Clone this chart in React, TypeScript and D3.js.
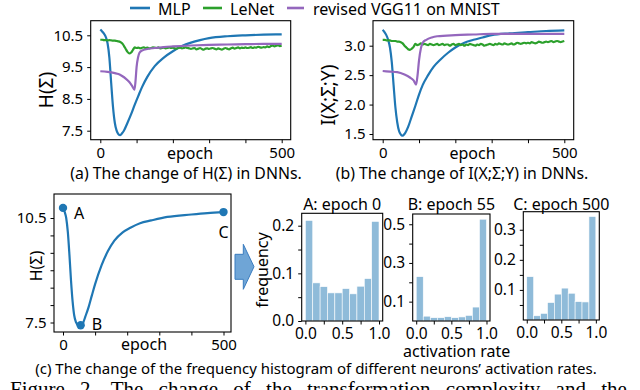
import React, { useEffect, useRef } from "react";
import * as d3 from "d3";

const FONT = "'Noto Sans', 'DejaVu Sans', sans-serif";

const blue = "#1f77b4";
const green = "#2ca02c";
const purple = "#9467bd";

const legendNames = ["MLP", "LeNet", "revised VGG11 on MNIST"];

// (a) H(Sigma) per epoch
const mlpH = [
  [0, 10.68], [5, 10.62], [10, 10.55], [15, 10.45], [20, 10.25], [25, 9.8], [30, 9.0],
  [35, 8.25], [40, 7.75], [45, 7.5], [50, 7.39], [55, 7.36], [60, 7.42], [65, 7.5],
  [75, 7.75], [85, 8.02], [95, 8.32], [105, 8.6], [115, 8.87], [130, 9.2], [150, 9.53],
  [175, 9.8], [200, 10.0], [225, 10.16], [250, 10.27], [275, 10.35], [300, 10.41],
  [350, 10.47], [400, 10.5], [450, 10.52], [500, 10.53],
];
const vggH = [
  [0, 9.37], [20, 9.35], [40, 9.31], [50, 9.28], [60, 9.22], [70, 9.14], [80, 9.03],
  [88, 8.9], [94, 8.79], [97, 9.05], [100, 9.5], [104, 9.8], [108, 9.95], [115, 10.02],
  [130, 10.07], [150, 10.1], [175, 10.13], [200, 10.15], [250, 10.18], [300, 10.2],
  [350, 10.21], [400, 10.22], [450, 10.23], [500, 10.23],
];
// LeNet, one value every 5 epochs
const lenetH = [
  10.36, 10.36, 10.35, 10.35, 10.34, 10.35, 10.34, 10.33, 10.33, 10.32,
  10.31, 10.29, 10.25, 10.17, 10.07, 9.98, 9.93, 9.96, 10.04, 10.12,
  10.10, 10.11, 10.09, 10.11, 10.12, 10.10, 10.11, 10.09, 10.10, 10.12,
  10.11, 10.10, 10.12, 10.09, 10.10, 10.11, 10.09, 10.10, 10.12, 10.10,
  10.11, 10.09, 10.08, 10.10, 10.11, 10.09, 10.10, 10.12, 10.10, 10.09,
  10.07, 10.09, 10.10, 10.06, 10.08, 10.10, 10.07, 10.05, 10.08, 10.09,
  10.07, 10.09, 10.10, 10.08, 10.06, 10.09, 10.07, 10.05, 10.08, 10.10,
  10.08, 10.06, 10.09, 10.11, 10.08, 10.10, 10.12, 10.09, 10.11, 10.10,
  10.12, 10.10, 10.11, 10.13, 10.10, 10.12, 10.11, 10.14, 10.12, 10.11,
  10.13, 10.12, 10.15, 10.13, 10.16, 10.18, 10.15, 10.17, 10.19, 10.16,
  10.17,
];

// (b) I(X;Sigma;Y) per epoch
const mlpI = [
  [0, 3.27], [5, 3.23], [10, 3.18], [15, 3.1], [20, 2.97], [25, 2.72], [30, 2.33],
  [35, 1.95], [40, 1.7], [45, 1.55], [50, 1.49], [54, 1.47], [60, 1.5], [70, 1.62],
  [80, 1.8], [90, 1.98], [100, 2.17], [110, 2.33], [125, 2.5], [140, 2.64], [160, 2.77],
  [180, 2.88], [200, 2.97], [225, 3.05], [250, 3.1], [275, 3.14], [300, 3.18],
  [350, 3.21], [400, 3.23], [450, 3.25], [500, 3.26],
];
const vggI = [
  [0, 2.57], [20, 2.56], [40, 2.55], [60, 2.51], [75, 2.46], [85, 2.41], [92, 2.34],
  [96, 2.5], [100, 2.75], [105, 2.95], [110, 3.05], [120, 3.1], [135, 3.14], [150, 3.16],
  [200, 3.18], [250, 3.19], [300, 3.2], [400, 3.2], [500, 3.2],
];
const lenetI = [
  3.10, 3.10, 3.09, 3.09, 3.09, 3.08, 3.08, 3.08, 3.07, 3.07,
  3.06, 3.04, 3.00, 2.97, 2.94, 2.93, 2.95, 2.98, 3.03, 3.01,
  3.02, 3.04, 3.02, 3.03, 3.02, 3.01, 3.03, 3.02, 3.01, 3.02,
  3.03, 3.01, 3.02, 3.03, 3.01, 3.02, 3.02, 3.00, 3.02, 3.03,
  3.01, 3.02, 3.03, 3.01, 3.02, 3.00, 3.02, 3.01, 3.03, 3.02,
  3.01, 3.00, 3.02, 3.01, 3.03, 3.02, 3.00, 3.01, 3.02, 3.03,
  3.02, 3.01, 3.03, 3.02, 3.04, 3.03, 3.02, 3.04, 3.03, 3.02,
  3.03, 3.04, 3.02, 3.03, 3.05, 3.04, 3.03, 3.04, 3.05, 3.04,
  3.05, 3.04, 3.06, 3.05, 3.04, 3.05, 3.07, 3.06, 3.05, 3.06,
  3.07, 3.06, 3.07, 3.08, 3.06, 3.07, 3.08, 3.07, 3.06, 3.07,
  3.08,
];

// (c) MLP H(Sigma) with marked epochs
const mlpHc = [
  [0, 10.79], [5, 10.68], [10, 10.5], [15, 10.1], [20, 9.45], [25, 8.7], [30, 8.1],
  [35, 7.7], [40, 7.52], [47, 7.43], [55, 7.42], [62, 7.48], [70, 7.68], [80, 7.95],
  [90, 8.28], [100, 8.6], [120, 9.14], [140, 9.55], [160, 9.85], [185, 10.08],
  [210, 10.22], [240, 10.35], [275, 10.43], [325, 10.53], [400, 10.6], [450, 10.64],
  [500, 10.67],
];
const markEpochs = [0, 55, 500];
const markNames = ["A", "B", "C"];

// histograms of activation rate
const binEdges = [0, 0.1, 0.2, 0.3, 0.4, 0.5, 0.6, 0.7, 0.8, 0.9, 1.0];
const histA = [0.211, 0.08, 0.072, 0.059, 0.059, 0.068, 0.057, 0.073, 0.089, 0.209];
const histB = [0.229, 0.025, 0.017, 0.017, 0.022, 0.017, 0.021, 0.029, 0.072, 0.526];
const histC = [0.144, 0.014, 0.022, 0.058, 0.086, 0.106, 0.089, 0.061, 0.06, 0.344];
const histTitles = ["A: epoch 0", "B: epoch 55", "C: epoch 500"];

const epochTicks = [0, 100, 200, 300, 400, 500];
const epochLabels = [0, 500];
const rateTicks = [0, 0.25, 0.5, 0.75, 1];
const rateLabels = [0, 0.5, 1];

function everyFive(vals) {
  return vals.map((v, i) => [i * 5, v]);
}

function styleAxis(g, size) {
  g.select(".domain").remove();
  g.attr("font-family", FONT).attr("font-size", size).attr("color", "#000");
  g.selectAll(".tick line").attr("stroke-width", 1);
}

function drawFrame(svg, box, x, y, o) {
  svg.append("rect")
    .attr("x", box[0]).attr("y", box[1])
    .attr("width", box[2] - box[0]).attr("height", box[3] - box[1])
    .attr("fill", "none").attr("stroke", "#000").attr("stroke-width", 1.1);

  const xa = d3.axisBottom(x)
    .tickValues(o.xTicks)
    .tickFormat(d => (o.xLabels.includes(d) ? o.xFmt(d) : ""))
    .tickSizeInner(3.5).tickSizeOuter(0).tickPadding(o.xPad);
  svg.append("g").attr("transform", `translate(0,${box[3]})`).call(xa).call(g => styleAxis(g, o.tickSize));

  const ya = d3.axisLeft(y)
    .tickValues(o.yTicks)
    .tickFormat(d => (o.yLabels.includes(d) ? o.yFmt(d) : ""))
    .tickSizeInner(3.5).tickSizeOuter(0).tickPadding(o.yPad);
  svg.append("g").attr("transform", `translate(${box[0]},0)`).call(ya).call(g => styleAxis(g, o.tickSize));
}

function drawLines(svg, x, y, series) {
  const line = d3.line().x(d => x(d[0])).y(d => y(d[1])).curve(d3.curveMonotoneX);
  series.forEach(s => {
    svg.append("path")
      .attr("d", line(s.pts))
      .attr("fill", "none")
      .attr("stroke", s.color)
      .attr("stroke-width", 2.2)
      .attr("stroke-linejoin", "round");
  });
}

function addText(svg, txt, x, y, size, anchor = "middle", rotate = false) {
  const t = svg.append("text")
    .attr("font-family", FONT)
    .attr("font-size", size)
    .attr("text-anchor", anchor)
    .text(txt);
  if (rotate) t.attr("transform", `translate(${x},${y}) rotate(-90)`);
  else t.attr("x", x).attr("y", y);
  return t;
}

function drawHist(svg, box, values, yMax, yTicks, yLabels, title) {
  const x = d3.scaleLinear().domain([-0.05, 1.05]).range([box[0], box[2]]);
  const y = d3.scaleLinear().domain([0, yMax]).range([box[3], box[1]]);
  svg.append("g").selectAll("rect")
    .data(values)
    .join("rect")
    .attr("x", (d, i) => x(binEdges[i]))
    .attr("width", (d, i) => x(binEdges[i + 1]) - x(binEdges[i]))
    .attr("y", d => y(d))
    .attr("height", d => y(0) - y(d))
    .attr("fill", blue)
    .attr("fill-opacity", 0.5)
    .attr("stroke", "#fff")
    .attr("stroke-width", 0.6);
  drawFrame(svg, box, x, y, {
    xTicks: rateTicks, xLabels: rateLabels, xFmt: d3.format(".1f"), xPad: 3,
    yTicks, yLabels, yFmt: d3.format(".1f"), yPad: 4, tickSize: 15.5,
  });
  addText(svg, title, (box[0] + box[2]) / 2, 209.5, 16);
}

function Figure() {
  const ref = useRef(null);

  useEffect(() => {
    const svg = d3.select(ref.current);
    svg.selectAll("*").remove();

    // legend
    const legendPos = [[130, 150, 158], [203, 222, 230], [287, 304, 313]];
    [blue, green, purple].forEach((c, i) => {
      svg.append("line")
        .attr("x1", legendPos[i][0]).attr("x2", legendPos[i][1])
        .attr("y1", 8).attr("y2", 8)
        .attr("stroke", c).attr("stroke-width", 2.6);
      addText(svg, legendNames[i], legendPos[i][2], 14.5, 16, "start");
    });

    // (a)
    {
      const box = [90.7, 20.7, 290.7, 139.7];
      const x = d3.scaleLinear().domain([0, 500]).range([100.3, 281.7]);
      const y = d3.scaleLinear().domain([7.5, 10.5]).range([130.7, 35.3]);
      drawLines(svg, x, y, [
        { pts: mlpH, color: blue },
        { pts: everyFive(lenetH), color: green },
        { pts: vggH, color: purple },
      ]);
      drawFrame(svg, box, x, y, {
        xTicks: epochTicks, xLabels: epochLabels, xFmt: d3.format("d"), xPad: 4,
        yTicks: [7.5, 8.5, 9.5, 10.5], yLabels: [7.5, 8.5, 9.5, 10.5], yFmt: d3.format(".1f"), yPad: 4,
        tickSize: 15,
      });
      addText(svg, "epoch", 190, 159, 16);
      addText(svg, "H(Σ)", 53, 90, 19, "middle", true);
      addText(svg, "(a) The change of H(Σ) in DNNs.", 186, 178.5, 15.8);
    }

    // (b)
    {
      const box = [373, 20.7, 573.7, 139.7];
      const x = d3.scaleLinear().domain([0, 500]).range([382.7, 564.3]);
      const y = d3.scaleLinear().domain([1.5, 3.0]).range([134, 45.7]);
      drawLines(svg, x, y, [
        { pts: mlpI, color: blue },
        { pts: everyFive(lenetI), color: green },
        { pts: vggI, color: purple },
      ]);
      drawFrame(svg, box, x, y, {
        xTicks: epochTicks, xLabels: epochLabels, xFmt: d3.format("d"), xPad: 4,
        yTicks: [1.5, 2.0, 2.5, 3.0], yLabels: [1.5, 2.0, 2.5, 3.0], yFmt: d3.format(".1f"), yPad: 4,
        tickSize: 15,
      });
      addText(svg, "epoch", 472.5, 159, 16);
      addText(svg, "I(X;Σ;Y)", 335, 95, 19, "middle", true);
      addText(svg, "(b) The change of I(X;Σ;Y) in DNNs.", 462, 178.5, 15.8);
    }

    // (c)
    {
      const box = [54, 194, 231, 332];
      const x = d3.scaleLinear().domain([0, 500]).range([63, 223.5]);
      const y = d3.scaleLinear().domain([7.5, 10.5]).range([322.5, 218]);
      drawLines(svg, x, y, [{ pts: mlpHc, color: blue }]);
      const marks = markEpochs.map(e => mlpHc.find(d => d[0] === e));
      svg.append("g").selectAll("circle")
        .data(marks)
        .join("circle")
        .attr("cx", d => x(d[0]))
        .attr("cy", d => y(d[1]))
        .attr("r", 4.2)
        .attr("fill", blue);
      const labelOffsets = [[11, 11], [11, 5], [-5, 26]];
      marks.forEach((d, i) => {
        addText(svg, markNames[i], x(d[0]) + labelOffsets[i][0], y(d[1]) + labelOffsets[i][1], 16, "start");
      });
      drawFrame(svg, box, x, y, {
        xTicks: epochTicks, xLabels: epochLabels, xFmt: d3.format("d"), xPad: 4,
        yTicks: [7.5, 8, 8.5, 9, 9.5, 10, 10.5], yLabels: [7.5, 10.5], yFmt: d3.format(".1f"), yPad: 4,
        tickSize: 15,
      });
      addText(svg, "epoch", 144, 350, 16);
      addText(svg, "H(Σ)", 42, 266, 16, "middle", true);
    }

    // arrow
    svg.append("path")
      .attr("d", "M235,254.3 L243.3,254.3 L243.3,244.3 L254,266.7 L243.3,289.3 L243.3,279.3 L235,279.3 Z")
      .attr("fill", "#6fa5d6")
      .attr("stroke", "#3a7cbf")
      .attr("stroke-width", 1);

    // histograms
    drawHist(svg, [301.7, 213.3, 382.7, 321], histA, 0.226,
      [0, 0.05, 0.1, 0.15, 0.2], [0, 0.1, 0.2], histTitles[0]);
    drawHist(svg, [412.7, 214, 490, 321], histB, 0.553,
      [0.1, 0.2, 0.3, 0.4, 0.5], [0.1, 0.3, 0.5], histTitles[1]);
    drawHist(svg, [523.3, 211.7, 599.3, 320], histC, 0.36,
      [0.05, 0.1, 0.15, 0.2, 0.25, 0.3], [0.1, 0.2, 0.3], histTitles[2]);
    addText(svg, "frequency", 268, 270, 16, "middle", true);
    addText(svg, "activation rate", 456.7, 357, 16);

    addText(svg, "(c) The change of the frequency histogram of different neurons’ activation rates.", 316, 373.5, 15);

    svg.append("text")
      .attr("x", 10).attr("y", 395.5)
      .attr("font-family", "'Liberation Serif', 'DejaVu Serif', serif")
      .attr("font-size", 21)
      .attr("word-spacing", 10)
      .text("Figure 2.  The change of the transformation complexity and the");
  }, []);

  return (
    <svg
      ref={ref}
      width={640}
      height={390}
      style={{ position: "absolute", left: 0, top: 0, background: "#fff" }}
    />
  );
}

export default function App() {
  return <Figure />;
}
